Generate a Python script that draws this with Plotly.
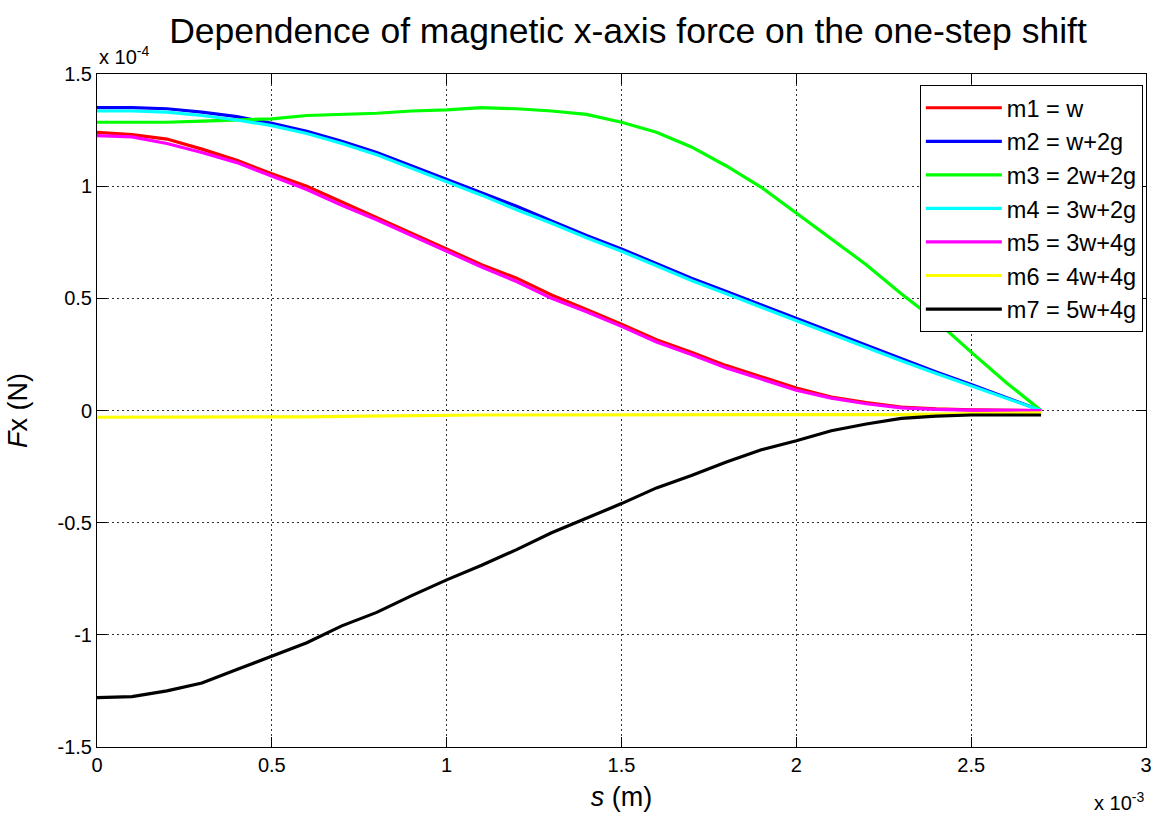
import plotly.graph_objects as go

# s in units of 1e-3 m, forces in units of 1e-4 N
s = [0.0, 0.1, 0.2, 0.3, 0.4, 0.5, 0.6, 0.7, 0.8, 0.9, 1.0, 1.1, 1.2, 1.3,
     1.4, 1.5, 1.6, 1.7, 1.8, 1.9, 2.0, 2.1, 2.2, 2.3, 2.4, 2.5, 2.6, 2.7]

m1 = [1.24, 1.23, 1.21, 1.165, 1.115, 1.055, 1.00, 0.93, 0.86, 0.79, 0.72, 0.65,
      0.59, 0.515, 0.45, 0.385, 0.315, 0.26, 0.20, 0.15, 0.10, 0.06, 0.035, 0.015,
      0.007, 0.003, 0.001, 0.0]
m2 = [1.35, 1.35, 1.345, 1.33, 1.31, 1.28, 1.245, 1.20, 1.15, 1.09, 1.03, 0.97,
      0.91, 0.845, 0.78, 0.72, 0.655, 0.59, 0.53, 0.47, 0.41, 0.35, 0.29, 0.23,
      0.172, 0.116, 0.058, 0.0]
m3 = [1.285, 1.285, 1.285, 1.29, 1.295, 1.30, 1.315, 1.32, 1.325, 1.335, 1.34,
      1.35, 1.345, 1.335, 1.32, 1.285, 1.24, 1.175, 1.09, 0.995, 0.88, 0.765,
      0.65, 0.52, 0.40, 0.26, 0.125, 0.0]
m4 = [1.335, 1.335, 1.33, 1.315, 1.295, 1.27, 1.235, 1.19, 1.14, 1.08, 1.02,
      0.96, 0.895, 0.835, 0.77, 0.71, 0.645, 0.58, 0.52, 0.46, 0.40, 0.34, 0.28,
      0.222, 0.165, 0.11, 0.053, 0.0]
m5 = [1.225, 1.22, 1.19, 1.15, 1.105, 1.045, 0.985, 0.915, 0.85, 0.78, 0.71,
      0.64, 0.575, 0.50, 0.44, 0.375, 0.305, 0.25, 0.19, 0.14, 0.09, 0.055, 0.03,
      0.012, 0.005, 0.002, 0.0, 0.0]
m6 = [-0.03, -0.03, -0.03, -0.03, -0.03, -0.03, -0.028, -0.026, -0.024, -0.022,
      -0.02, -0.02, -0.02, -0.02, -0.02, -0.02, -0.02, -0.02, -0.02, -0.02, -0.02,
      -0.02, -0.02, -0.018, -0.016, -0.014, -0.012, -0.01]
m7 = [-1.28, -1.275, -1.25, -1.215, -1.155, -1.095, -1.035, -0.96, -0.90, -0.825,
      -0.755, -0.69, -0.62, -0.545, -0.48, -0.415, -0.345, -0.29, -0.23, -0.175,
      -0.135, -0.09, -0.06, -0.035, -0.025, -0.02, -0.02, -0.02]

series = [
    ("m1 = w", m1, "#ff0000"),
    ("m2 = w+2g", m2, "#0000ff"),
    ("m3 = 2w+2g", m3, "#00ff00"),
    ("m4 = 3w+2g", m4, "#00ffff"),
    ("m5 = 3w+4g", m5, "#ff00ff"),
    ("m6 = 4w+4g", m6, "#ffff00"),
    ("m7 = 5w+4g", m7, "#000000"),
]

x_ticks = [0, 0.5, 1, 1.5, 2, 2.5, 3]
x_ticktext = ["0", "0.5", "1", "1.5", "2", "2.5", "3"]
y_ticks = [-1.5, -1, -0.5, 0, 0.5, 1, 1.5]
y_ticktext = ["-1.5", "-1", "-0.5", "0", "0.5", "1", "1.5"]

FONT = "Liberation Sans, Arial, sans-serif"

fig = go.Figure()
for name, vals, col in series:
    fig.add_trace(go.Scatter(x=s, y=vals, mode="lines", name=name,
                             legendgroup=name,
                             line=dict(color=col, width=3.2)))

axis_common = dict(
    showline=True, linecolor="black", linewidth=1, mirror="allticks",
    ticks="inside", ticklen=10, tickcolor="black",
    showgrid=True, gridcolor="#333333", griddash="2px,3px", gridwidth=1,
    zeroline=False, tickfont=dict(family=FONT, size=20, color="black"),
)

fig.update_layout(
    width=1164, height=819,
    margin=dict(l=97, r=12, t=74, b=71),
    paper_bgcolor="white", plot_bgcolor="white",
    font=dict(family=FONT, color="black"),
    title=dict(text="Dependence of magnetic x-axis force on the one-step shift",
               font=dict(family=FONT, size=35.5, color="black"),
               x=(628 / 1164), xanchor="center", y=1 - 31 / 819, yanchor="middle"),
    xaxis=dict(range=[0, 3], tickvals=x_ticks, ticktext=x_ticktext,
               title=dict(text="<i>s</i> (m)", font=dict(family=FONT, size=27),
                          standoff=12),
               **axis_common),
    yaxis=dict(range=[-1.5, 1.5], tickvals=y_ticks, ticktext=y_ticktext,
               title=dict(text="<i>F</i>x (N)", font=dict(family=FONT, size=27),
                          standoff=22),
               **axis_common),
    legend=dict(x=0.997, xanchor="right", y=0.9837, yanchor="top",
                bgcolor="white", bordercolor="black", borderwidth=1,
                font=dict(family=FONT, size=23.5, color="black"),
                tracegroupgap=0, traceorder="normal", itemwidth=76),
    showlegend=True,
)

fig.add_annotation(text="x 10<sup>-4</sup>", xref="paper", yref="paper",
                   x=0, y=1, xanchor="left", yanchor="bottom", yshift=4,
                   showarrow=False, font=dict(family=FONT, size=20, color="black"))
fig.add_annotation(text="x 10<sup>-3</sup>", xref="paper", yref="paper",
                   x=1, y=0, xanchor="right", yanchor="top", yshift=-40,
                   showarrow=False, font=dict(family=FONT, size=20, color="black"))

fig.write_html("out.html")
